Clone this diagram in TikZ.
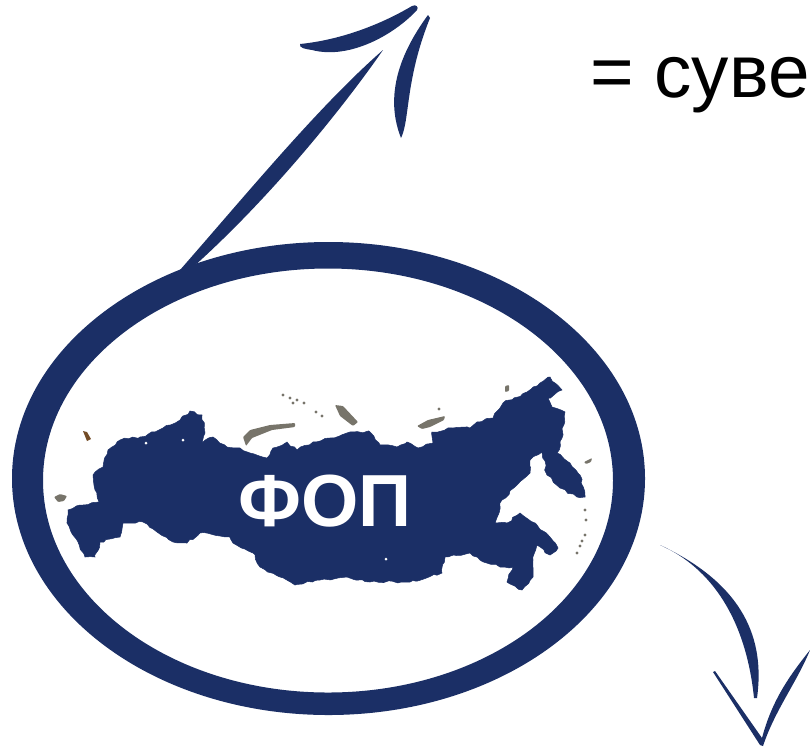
\documentclass[tikz,border=0pt]{standalone}
\usepackage{fontspec}
\setmainfont{Liberation Sans}
\usetikzlibrary{decorations.pathmorphing}
\definecolor{navy}{HTML}{1B2F66}
\definecolor{isle}{HTML}{77746A}
\tikzset{
  solid navy/.style={fill=navy,draw=none},
  isle part/.style={fill=isle,draw=none,rounded corners=0.5pt},
  land part/.style={fill=navy,draw=navy,line width=0.3pt,decorate,decoration={random steps,segment length=2.5pt,amplitude=0.7pt}}
}

\begin{document}
\begin{tikzpicture}[x=0.02cm,y=-0.02cm]
\useasboundingbox (0,0) rectangle (810,751);
\pgfmathsetseed{7}

% ring
\path[solid navy,even odd rule] (328.5,478.5) ellipse (316.5 and 236.5) (328,480.5) ellipse (285 and 212);

% arrow up
\path[solid navy] (180,270) .. controls (250,190) and (320,105) .. (383,50) .. controls (340,112) and (268,200) .. (192,268) -- cycle;
\path[solid navy] (300,44) .. controls (340,40) and (380,25) .. (412,6) .. controls (416,4) and (419,7) .. (417,10) .. controls (395,34) and (350,60) .. (312,50) .. controls (305,49) and (299,48) .. (300,44) -- cycle;
\path[solid navy] (428,15) .. controls (406,45) and (382,90) .. (401,138) .. controls (410,120) and (405,80) .. (430,18) -- cycle;

% arrow down
\path[solid navy] (660,545) .. controls (712,568) and (746,620) .. (754,698) -- (757,698) .. controls (765,640) and (745,585) .. (660,545) -- cycle;
\path[solid navy] (713,672) -- (715,671) -- (762,738) .. controls (772,700) and (790,675) .. (810,650) .. controls (797,682) and (775,710) .. (763,746) -- (760,745) -- cycle;

% mainland
\path[land part] (67,523) -- (68,510) -- (83,505) -- (99,502) -- (95,490) -- (93,475) -- (103,467) -- (108,450) -- (120,440) -- (140,437) -- (155,432) -- (180,420) -- (190,411) -- (202,415) -- (205,433) -- (202,443) -- (213,437) -- (227,447) -- (240,448) -- (250,453) -- (267,458) -- (273,448) -- (287,442) -- (297,450) -- (313,442) -- (330,438) -- (350,432) -- (370,432) -- (380,445) -- (397,447) -- (407,442) -- (418,448) -- (433,443) -- (432,432) -- (453,428) -- (470,428) -- (477,422) -- (493,418) -- (503,403) -- (527,392) -- (540,383) -- (550,377) -- (562,390) -- (548,398) -- (552,407) -- (565,412) -- (562,438) -- (557,453) -- (570,463) -- (580,475) -- (585,497) -- (577,497) -- (560,488) -- (547,475) -- (542,452) -- (530,460) -- (530,473) -- (517,485) -- (502,500) -- (495,523) -- (507,523) -- (520,513) -- (537,525) -- (550,537) -- (558,548) -- (550,555) -- (537,545) -- (533,560) -- (533,577) -- (522,590) -- (507,582) -- (513,567) -- (500,567) -- (480,560) -- (470,553) -- (445,557) -- (442,573) -- (410,582) -- (370,582) -- (347,577) -- (320,580) -- (295,585) -- (280,577) -- (260,567) -- (253,553) -- (233,543) -- (230,537) -- (200,533) -- (187,543) -- (173,542) -- (157,532) -- (143,522) -- (123,523) -- (120,537) -- (100,542) -- (95,557) -- (85,557) -- (78,542) -- cycle;

% specks in the land
\foreach \x/\y in {183/440,146/443,386/559}
  \path[fill=white] (\x,\y) circle (1.5);

% islands
\path[isle part] (243,437) -- (250,430) -- (270,425) -- (295,423) -- (295,427) -- (272,430) -- (252,438) -- (246,446) -- cycle;
\path[isle part] (335,405) -- (343,406) -- (358,422) -- (353,426) -- (340,416) -- cycle;
\path[isle part] (417,426) -- (428,420) -- (445,416) -- (444,420) -- (430,427) -- (422,429) -- cycle;
\path[isle part] (505,386) -- (509,385) -- (509,391) -- (505,392) -- cycle;
\path[isle part] (584,462) -- (592,458) -- (591,462) -- (586,464) -- cycle;
\path[isle part] (54,497) -- (60,494) -- (67,496) -- (64,501) -- (58,502) -- cycle;
\path[fill=brown!60!black] (83,431) -- (87,432) -- (91,439) -- (87,441) -- cycle;
\foreach \x/\y in {283/395,290/398,297/400,304/403,293/403,316/412,322/416,439/409,585/510,586/520,585/535,582/541,580/546,577/553}
  \path[fill=isle] (\x,\y) circle (1.6);

% labels
\node[text=white,inner sep=0pt,anchor=base,font=\bfseries\fontsize{42}{42}\selectfont] (fop) at (325,526) {ФОП};
\node[text=black,inner sep=0pt,anchor=base west,font=\fontsize{42.5}{43}\selectfont] (suve) at (590,97) {= суве};
\end{tikzpicture}
\end{document}
